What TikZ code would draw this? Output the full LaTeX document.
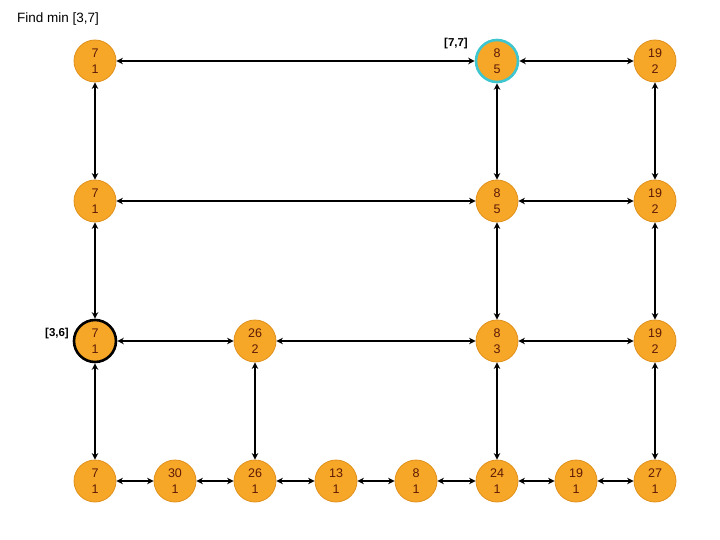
\documentclass[tikz,border=0pt]{standalone}
\usepackage{fontspec}
\setmainfont{Liberation Sans}
\usetikzlibrary{arrows.meta}
\definecolor{nodefill}{HTML}{F7A727}
\definecolor{nodeedge}{HTML}{E0901A}
\definecolor{txt}{HTML}{5E1A06}
\definecolor{selcyan}{HTML}{3EC6D0}
\begin{document}
\begin{tikzpicture}[x=1pt,y=-1pt,
  tnode/.style={circle,fill=nodefill,draw=nodeedge,line width=0.8pt,minimum size=42pt,inner sep=0pt,
    text=txt,font=\fontsize{12.5}{16}\selectfont,align=center},
  link/.style={line width=2pt,{Stealth[length=6.5pt,width=6.5pt]}-{Stealth[length=6.5pt,width=6.5pt]}},
  lbl/.style={font=\bfseries\fontsize{11.5}{13}\selectfont}]
\useasboundingbox (0,0) rectangle (720,540);
\node[anchor=west,inner sep=0pt,font=\fontsize{13.5}{16}\selectfont] (title) at (17,19) {Find min [3,7]};
% row 1
\node[tnode] (a1) at (95,61) {7\\1};
\node[tnode,draw=selcyan,line width=2.6pt] (f1) at (497,61) {8\\5};
\node[tnode] (h1) at (655,61) {19\\2};
% row 2
\node[tnode] (a2) at (95,201) {7\\1};
\node[tnode] (f2) at (497,201) {8\\5};
\node[tnode] (h2) at (655,201) {19\\2};
% row 3
\node[tnode,draw=black,line width=2.6pt] (a3) at (95,341) {7\\1};
\node[tnode] (c3) at (255,341) {26\\2};
\node[tnode] (f3) at (497,341) {8\\3};
\node[tnode] (h3) at (655,341) {19\\2};
% row 4
\node[tnode] (a4) at (95,481) {7\\1};
\node[tnode] (b4) at (175,481) {30\\1};
\node[tnode] (c4) at (255,481) {26\\1};
\node[tnode] (d4) at (336,481) {13\\1};
\node[tnode] (e4) at (416,481) {8\\1};
\node[tnode] (f4) at (497,481) {24\\1};
\node[tnode] (g4) at (576,481) {19\\1};
\node[tnode] (h4) at (655,481) {27\\1};
% labels
\node[lbl] (l77) at (456,44) {[7,7]};
\node[lbl] (l36) at (57,334) {[3,6]};
% horizontal links
\draw[link] (a1) -- (f1);
\draw[link] (f1) -- (h1);
\draw[link] (a2) -- (f2);
\draw[link] (f2) -- (h2);
\draw[link] (a3) -- (c3);
\draw[link] (c3) -- (f3);
\draw[link] (f3) -- (h3);
\draw[link] (a4) -- (b4);
\draw[link] (b4) -- (c4);
\draw[link] (c4) -- (d4);
\draw[link] (d4) -- (e4);
\draw[link] (e4) -- (f4);
\draw[link] (f4) -- (g4);
\draw[link] (g4) -- (h4);
% vertical links
\draw[link] (a1) -- (a2);
\draw[link] (a2) -- (a3);
\draw[link] (a3) -- (a4);
\draw[link] (c3) -- (c4);
\draw[link] (f1) -- (f2);
\draw[link] (f2) -- (f3);
\draw[link] (f3) -- (f4);
\draw[link] (h1) -- (h2);
\draw[link] (h2) -- (h3);
\draw[link] (h3) -- (h4);
\end{tikzpicture}
\end{document}
